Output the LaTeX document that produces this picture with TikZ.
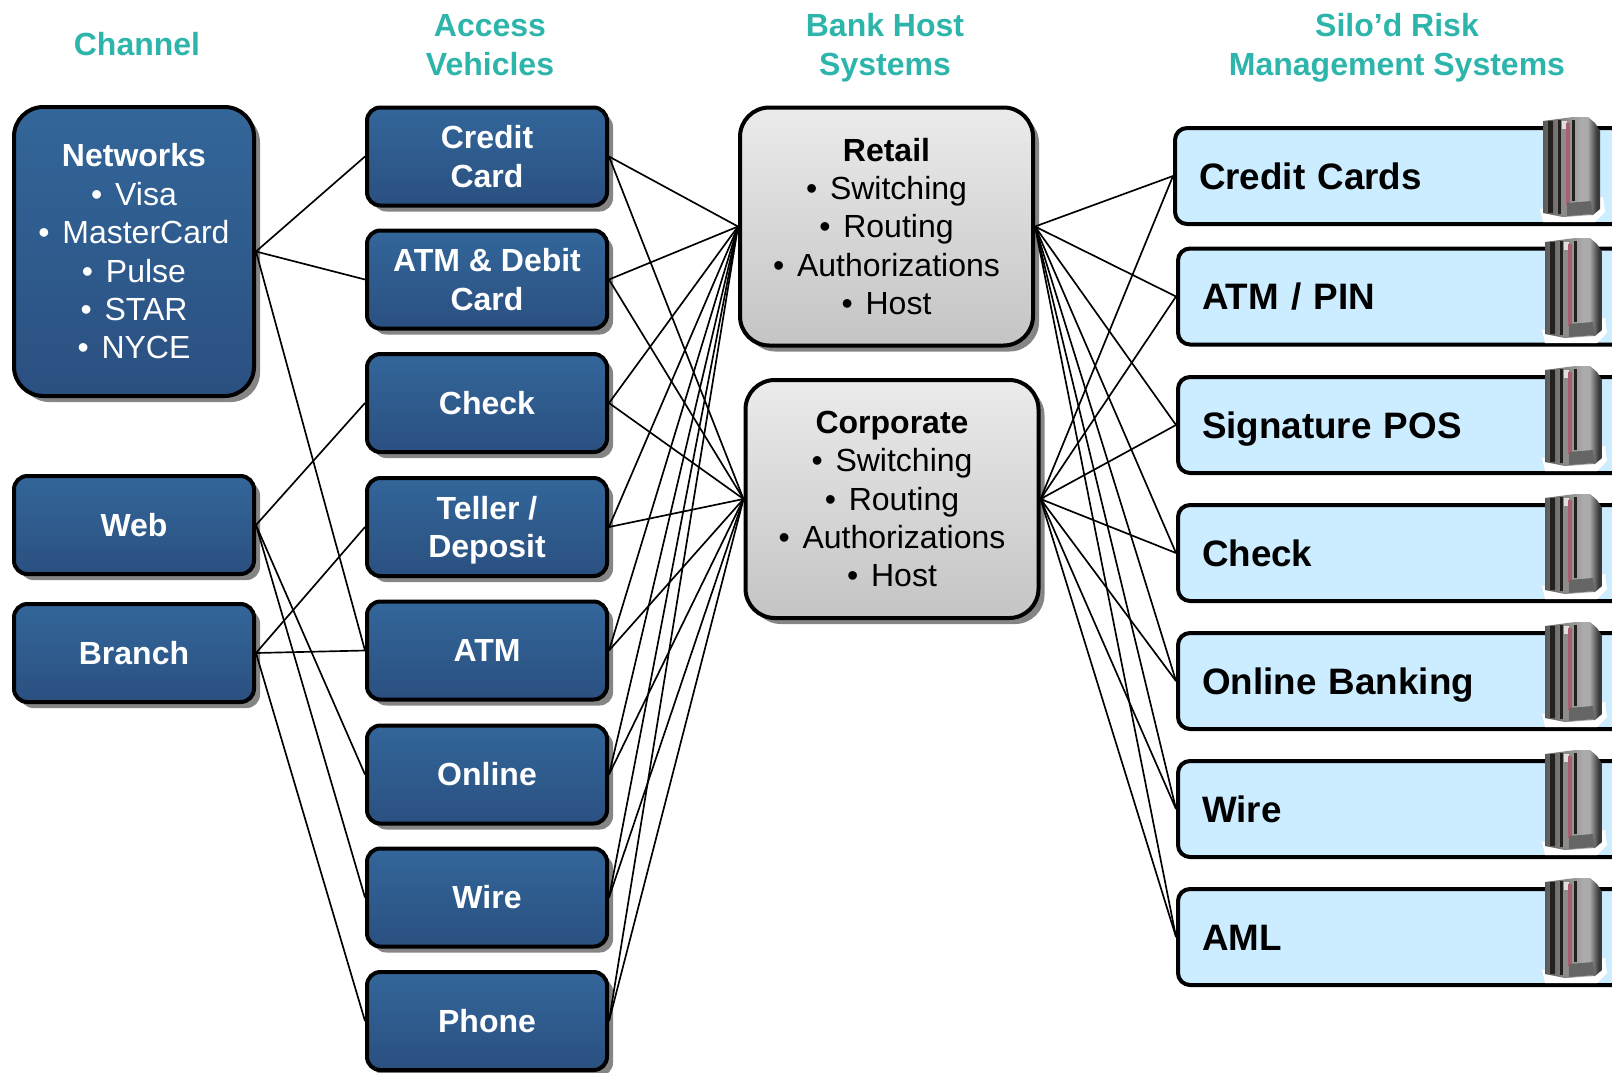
\documentclass[tikz,border=0pt]{standalone}
\usepackage{fontspec}
\setmainfont{Liberation Sans}
\usepackage{tikz}
\usetikzlibrary{shadows}
\definecolor{headteal}{HTML}{2EB5AB}
\definecolor{bluetop}{HTML}{33669A}
\definecolor{bluebot}{HTML}{2A5080}
\definecolor{greytop}{HTML}{EBEBEB}
\definecolor{greybot}{HTML}{C4C4C4}
\definecolor{silofill}{HTML}{CCECFF}
\definecolor{shadowgrey}{HTML}{858585}
\definecolor{bodyleft}{HTML}{5A5A5A}
\definecolor{bodymid}{HTML}{ABABAB}
\definecolor{bodyright}{HTML}{3A3A3A}
\definecolor{stripered}{HTML}{A85F6E}
\definecolor{stripedark}{HTML}{24211C}
\pgfdeclarehorizontalshading{serverbody}{100bp}{color(0bp)=(bodyleft); color(25bp)=(bodyleft); color(58bp)=(bodymid); color(64bp)=(bodymid); color(72bp)=(bodyright); color(100bp)=(bodyright)}
\newcommand{\itm}[1]{\textbullet\hspace{.4em}#1}
\tikzset{
  heading/.style={text=headteal,align=center,font=\fontsize{24}{29}\selectfont\bfseries},
  framed/.style={draw=black,line width=3pt,align=center,inner sep=0pt,
    drop shadow={shadow xshift=4.5pt,shadow yshift=-4.5pt,fill=shadowgrey,opacity=1}},
  bluebox/.style={framed,rounded corners=10pt,top color=bluetop,bottom color=bluebot,text=white,
    minimum width=180pt,minimum height=73.5pt,font=\fontsize{24}{28.8}\selectfont\bfseries},
  hostbox/.style={framed,rounded corners=22pt,top color=greytop,bottom color=greybot,text=black,
    minimum width=219.75pt,minimum height=178.5pt,font=\fontsize{24}{28.8}\selectfont},
  silobox/.style={draw=black,line width=3pt,rounded corners=9pt,fill=silofill,anchor=west,
    minimum height=72pt,text width=312pt,align=left,inner sep=18pt,text height=20pt,text depth=0pt,
    font=\fontsize{27.6}{33}\selectfont\bfseries,
    drop shadow={shadow xshift=0pt,shadow yshift=-1.2pt,fill=shadowgrey,opacity=1}},
  wire/.style={line width=1.25pt},
  server/.pic={
    \fill[white] (-3,92) -- (60,80) -- (62,95) -- (52,105) -- (0,105) -- cycle;
    \shade[shading=serverbody]
      (0,4) -- (30,0) -- (45,0) -- (52,6) -- (57,14) -- (57,92) -- (50,98) -- (20,100) -- (0,96) -- cycle;
    \fill[stripedark] (5,4) rectangle (10,96);
    \fill[stripedark] (15,3) rectangle (18,97);
    \fill[stripedark] (29,3) rectangle (32,84);
    \fill[black!45] (18,3) rectangle (23,98);
    \fill[black!12] (19,4) rectangle (24,12);
    \fill[stripered] (23,6) rectangle (27,88);
    \fill[black!60] (24,86) -- (48,84) -- (50,97) -- (24,99) -- cycle;
  }
}
\begin{document}
\begin{tikzpicture}[x=0.75pt,y=-0.75pt]
\useasboundingbox (0,0) rectangle (1612,1072);
% headings
\node[heading] (hchannel) at (137,44) {Channel};
\node[heading] (hvehicle) at (490,45) {Access\\Vehicles};
\node[heading] (hhost) at (885,48) {Bank Host\\Systems};
\node[heading] (hsilo) at (1397,48) {Silo’d Risk\\Management Systems};
% channels
\node[bluebox,rounded corners=22pt,minimum height=216.75pt,font=\fontsize{24}{28.8}\selectfont] (networks) at (134,251.5)
  {\textbf{Networks}\\\itm{Visa}\\\itm{MasterCard}\\\itm{Pulse}\\\itm{STAR}\\\itm{NYCE}};
\node[bluebox] (web) at (134,525) {Web};
\node[bluebox] (branch) at (134,653) {Branch};
% access vehicles
\node[bluebox] (credit) at (487,156.5) {Credit\\Card};
\node[bluebox] (debit) at (487,279.5) {ATM \& Debit\\Card};
\node[bluebox] (check) at (487,403) {Check};
\node[bluebox] (vteller) at (487,527) {Teller /\\\raisebox{0pt}[\height][0pt]{Deposit}};
\node[bluebox] (atm) at (487,650.5) {ATM};
\node[bluebox] (online) at (487,774.5) {Online};
\node[bluebox] (wire) at (487,897.5) {Wire};
\node[bluebox] (phone) at (487,1021) {Phone};
% hosts
\node[hostbox] (retail) at (886.5,226.5) {\textbf{Retail}\\\itm{Switching}\\\itm{Routing}\\\itm{Authorizations}\\\itm{Host}};
\node[hostbox] (corporate) at (892,499) {\textbf{Corporate}\\\itm{Switching}\\\itm{Routing}\\\itm{Authorizations}\\\itm{Host}};
% silos
\node[silobox] (scredit) at (1173,176) {Credit Cards};
\node[silobox] (spin) at (1176,296.5) {ATM / PIN};
\node[silobox] (spos) at (1176,425) {Signature POS};
\node[silobox] (scheck) at (1176,553) {Check};
\node[silobox] (sbank) at (1176,681) {Online Banking};
\node[silobox] (swire) at (1176,809) {Wire};
\node[silobox] (saml) at (1176,937) {AML};
\pic at (1543,117) {server};
\pic at (1545,238) {server};
\pic at (1545,366) {server};
\pic at (1545,494) {server};
\pic at (1545,622) {server};
\pic at (1545,750) {server};
\pic at (1545,878) {server};
% channel to vehicle
\draw[wire] (networks.east) -- (credit.west);
\draw[wire] (networks.east) -- (debit.west);
\draw[wire] (networks.east) -- (atm.west);
\draw[wire] (web.east) -- (check.west);
\draw[wire] (web.east) -- (online.west);
\draw[wire] (web.east) -- (wire.west);
\draw[wire] (branch.east) -- (vteller.west);
\draw[wire] (branch.east) -- (atm.west);
\draw[wire] (branch.east) -- (phone.west);
% vehicle to host
\draw[wire] (credit.east) -- (retail.west);
\draw[wire] (credit.east) -- (corporate.west);
\draw[wire] (debit.east) -- (retail.west);
\draw[wire] (debit.east) -- (corporate.west);
\draw[wire] (check.east) -- (retail.west);
\draw[wire] (check.east) -- (corporate.west);
\draw[wire] (vteller.east) -- (retail.west);
\draw[wire] (vteller.east) -- (corporate.west);
\draw[wire] (atm.east) -- (retail.west);
\draw[wire] (atm.east) -- (corporate.west);
\draw[wire] (online.east) -- (retail.west);
\draw[wire] (online.east) -- (corporate.west);
\draw[wire] (wire.east) -- (retail.west);
\draw[wire] (wire.east) -- (corporate.west);
\draw[wire] (phone.east) -- (retail.west);
\draw[wire] (phone.east) -- (corporate.west);
% host to silo
\draw[wire] (retail.east) -- (scredit.west);
\draw[wire] (retail.east) -- (spin.west);
\draw[wire] (retail.east) -- (spos.west);
\draw[wire] (retail.east) -- (scheck.west);
\draw[wire] (retail.east) -- (sbank.west);
\draw[wire] (retail.east) -- (swire.west);
\draw[wire] (retail.east) -- (saml.west);
\draw[wire] (corporate.east) -- (scredit.west);
\draw[wire] (corporate.east) -- (spin.west);
\draw[wire] (corporate.east) -- (spos.west);
\draw[wire] (corporate.east) -- (scheck.west);
\draw[wire] (corporate.east) -- (sbank.west);
\draw[wire] (corporate.east) -- (swire.west);
\draw[wire] (corporate.east) -- (saml.west);
\end{tikzpicture}
\end{document}
